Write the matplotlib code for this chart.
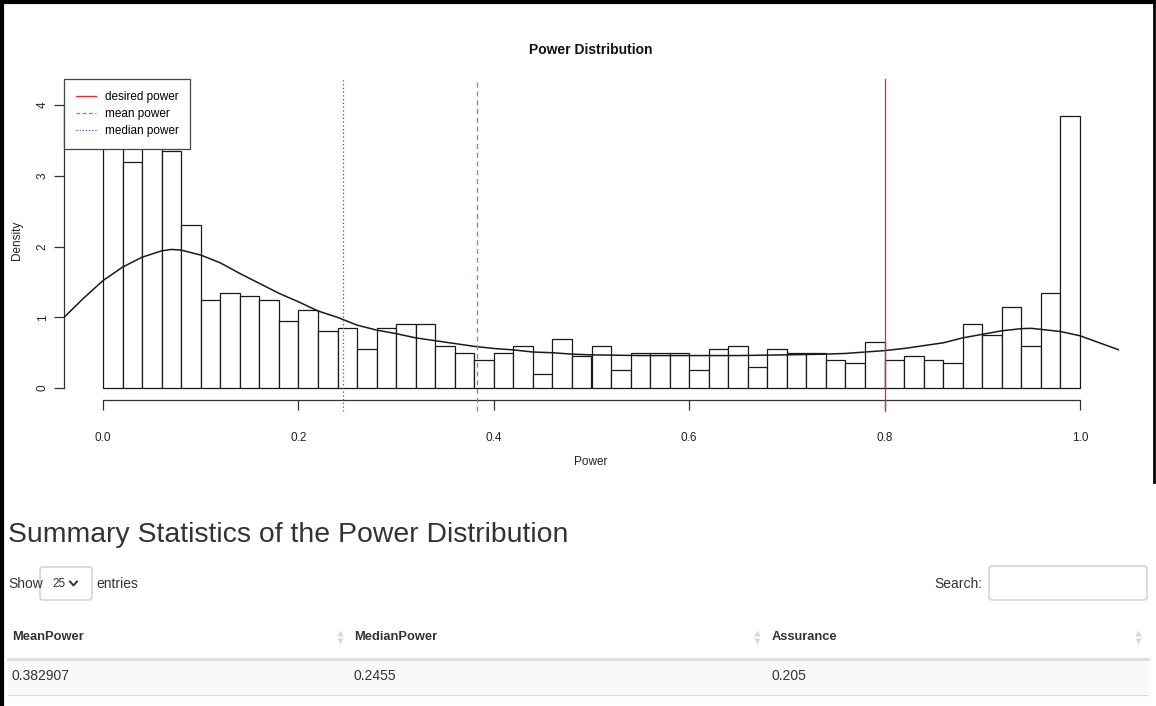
import numpy as np
import matplotlib
matplotlib.use("Agg")
import matplotlib.pyplot as plt
from matplotlib import font_manager
from matplotlib.patches import FancyBboxPatch, Rectangle
from matplotlib.lines import Line2D

names = {f.name for f in font_manager.fontManager.ttflist}
NARROW = 'Liberation Sans Narrow' if 'Liberation Sans Narrow' in names else 'Liberation Sans'
plt.rcParams['font.family'] = [NARROW, 'DejaVu Sans']

# ---------------- data ----------------
breaks = np.linspace(0.0, 1.0, 51)
density = [4.20, 3.20, 3.75, 3.35, 2.30, 1.25, 1.35, 1.30, 1.25, 0.95,
           1.10, 0.80, 0.85, 0.55, 0.85, 0.90, 0.90, 0.60, 0.50, 0.40,
           0.50, 0.60, 0.20, 0.70, 0.45, 0.60, 0.25, 0.50, 0.50, 0.50,
           0.25, 0.55, 0.60, 0.30, 0.55, 0.50, 0.50, 0.40, 0.35, 0.65,
           0.40, 0.45, 0.40, 0.35, 0.90, 0.75, 1.15, 0.60, 1.35, 3.85]
curve_x = [-0.04, -0.02, 0.00, 0.02, 0.04, 0.06, 0.07, 0.08, 0.10, 0.12,
           0.14, 0.16, 0.18, 0.20, 0.22, 0.24, 0.26, 0.28, 0.30, 0.32,
           0.34, 0.36, 0.38, 0.40, 0.42, 0.44, 0.46, 0.48, 0.50, 0.55,
           0.60, 0.65, 0.70, 0.74, 0.76, 0.78, 0.80, 0.82, 0.84, 0.86,
           0.88, 0.90, 0.92, 0.94, 0.95, 0.96, 0.98, 1.00, 1.02, 1.04]
curve_y = [1.00, 1.27, 1.52, 1.71, 1.85, 1.94, 1.96, 1.95, 1.88, 1.77,
           1.62, 1.48, 1.34, 1.22, 1.09, 1.00, 0.89, 0.82, 0.77, 0.71,
           0.67, 0.63, 0.59, 0.56, 0.54, 0.51, 0.50, 0.48, 0.47, 0.46,
           0.46, 0.46, 0.47, 0.48, 0.49, 0.51, 0.53, 0.56, 0.60, 0.64,
           0.71, 0.76, 0.81, 0.84, 0.845, 0.83, 0.80, 0.74, 0.64, 0.54]
desired_power = 0.8
mean_power = 0.382907
median_power = 0.2455
x_ticks = [0.0, 0.2, 0.4, 0.6, 0.8, 1.0]
x_tick_labels = ['0.0', '0.2', '0.4', '0.6', '0.8', '1.0']
y_ticks = [0, 1, 2, 3, 4]
y_tick_labels = ['0', '1', '2', '3', '4']
legend_labels = ['desired power', 'mean power', 'median power']
table_columns = ['MeanPower', 'MedianPower', 'Assurance']
table_row = ['0.382907', '0.2455', '0.205']
entries_value = '25'

# ---------------- figure ----------------
W, H = 1156, 706
fig = plt.figure(figsize=(W / 100, H / 100), dpi=100)
fig.patch.set_facecolor('white')


def fr(x0, y0, x1, y1):
    return [x0 / W, 1 - y1 / H, (x1 - x0) / W, (y1 - y0) / H]


ax = fig.add_axes(fr(64, 79, 1119, 400))
ink = '#1a1a1a'
ax.bar(breaks[:-1], density, width=np.diff(breaks), align='edge',
       color='white', edgecolor=ink, linewidth=0.9, zorder=2)
ax.plot(curve_x, curve_y, color=ink, lw=1.1, zorder=3)
M = max(density)
ax.set_xlim(-0.04, 1.04)
ax.set_ylim(-0.04 * M, 1.04 * M)

ax.axvline(desired_power, ymin=-0.035, ymax=1, color='#ff2020', lw=0.9,
           clip_on=False, zorder=4)
ax.axvline(mean_power, ymin=-0.035, ymax=1, color='#22cc22', lw=0.9,
           ls=(0, (4, 3)), clip_on=False, zorder=4)
ax.axvline(median_power, ymin=-0.035, ymax=1, color='#4444ff', lw=0.9,
           ls=(0, (1, 2)), clip_on=False, zorder=4)

for s in ['top', 'right']:
    ax.spines[s].set_visible(False)
ax.spines['left'].set_bounds(0, 4)
ax.spines['bottom'].set_bounds(0, 1)
for s in ['left', 'bottom']:
    ax.spines[s].set_color('#333333')
    ax.spines[s].set_linewidth(0.9)
ax.set_xticks(x_ticks)
ax.set_xticklabels(x_tick_labels)
ax.set_yticks(y_ticks)
ax.set_yticklabels(y_tick_labels, rotation=90, va='center')
ax.tick_params(axis='both', length=7, width=0.9, colors='#333333',
               labelsize=8.5, labelcolor='#222222')
ax.tick_params(axis='x', pad=16)
ax.tick_params(axis='y', pad=4)

handles = [Line2D([], [], color='#ff2020', lw=0.9),
           Line2D([], [], color='#22cc22', lw=0.9, ls=(0, (3, 2))),
           Line2D([], [], color='#4444ff', lw=0.9, ls=(0, (1, 1.5)))]
leg = ax.legend(handles, legend_labels, loc='upper left', bbox_to_anchor=(0, 1),
                borderaxespad=0, fancybox=False, framealpha=1, edgecolor='#444444',
                fontsize=8.5, handlelength=1.7, handletextpad=0.75,
                labelspacing=0.45, borderpad=1.0)
leg.get_frame().set_linewidth(0.9)
leg.set_zorder(10)

fig.text(591 / W, 1 - 50 / H, 'Power Distribution', ha='center', va='center',
         fontsize=10, fontweight='bold', color='#111111')
fig.text(17 / W, 1 - 240 / H, 'Density', ha='center', va='center',
         rotation=90, fontsize=8.5, color='#222222')
fig.text(591 / W, 1 - 462 / H, 'Power', ha='center', va='center',
         fontsize=8.5, color='#222222')

# ---------------- overlay (page) ----------------
ov = fig.add_axes([0, 0, 1, 1], zorder=-1)
ov.set_xlim(0, W)
ov.set_ylim(H, 0)
ov.axis('off')

# screenshot border
ov.add_line(Line2D([1.5, 1.5], [0, H], color='black', lw=3))
ov.add_line(Line2D([0, W], [1.5, 1.5], color='black', lw=3))
ov.add_line(Line2D([1153.5, 1153.5], [0, 482], color='black', lw=2))

txt = '#333333'
ov.text(8, 535, 'Summary Statistics of the Power Distribution', fontsize=20.4,
        color=txt, ha='left', va='center')
ov.text(8, 584, 'Show', fontsize=10, color=txt, ha='left', va='center')
ov.add_patch(FancyBboxPatch((40, 567), 52, 33, boxstyle='round,pad=0,rounding_size=3',
                            fc='white', ec='#cccccc', lw=1))
ov.text(52, 584, entries_value, fontsize=8.5, color=txt, ha='left', va='center')
ov.add_line(Line2D([70, 73.5, 77], [581.5, 585.5, 581.5], color=txt, lw=1.4))
ov.text(96, 584, 'entries', fontsize=10, color=txt, ha='left', va='center')
ov.text(982, 584, 'Search:', fontsize=10, color=txt, ha='right', va='center')
ov.add_patch(FancyBboxPatch((989, 566), 158, 34, boxstyle='round,pad=0,rounding_size=3',
                            fc='white', ec='#cccccc', lw=1))

col_x = [12, 354, 772]
arrow_x = [340, 757, 1138]
for cx, name in zip(col_x, table_columns):
    ov.text(cx, 637, name, fontsize=9.3, fontweight='bold', color=txt,
            ha='left', va='center')
for axx in arrow_x:
    ov.plot([axx], [633], marker='^', ms=4, color='#d8d8d8', mec='none')
    ov.plot([axx], [641], marker='v', ms=4, color='#d8d8d8', mec='none')
ov.add_patch(Rectangle((8, 659), 1140, 35, fc='#f9f9f9', ec='none'))
ov.add_line(Line2D([8, 1148], [658.5, 658.5], color='#dddddd', lw=2))
ov.add_line(Line2D([8, 1148], [694.5, 694.5], color='#dddddd', lw=1))
for cx, val in zip(col_x, table_row):
    ov.text(cx, 676, val, fontsize=10, color=txt, ha='left', va='center')

fig.savefig('out.png', dpi=100)
